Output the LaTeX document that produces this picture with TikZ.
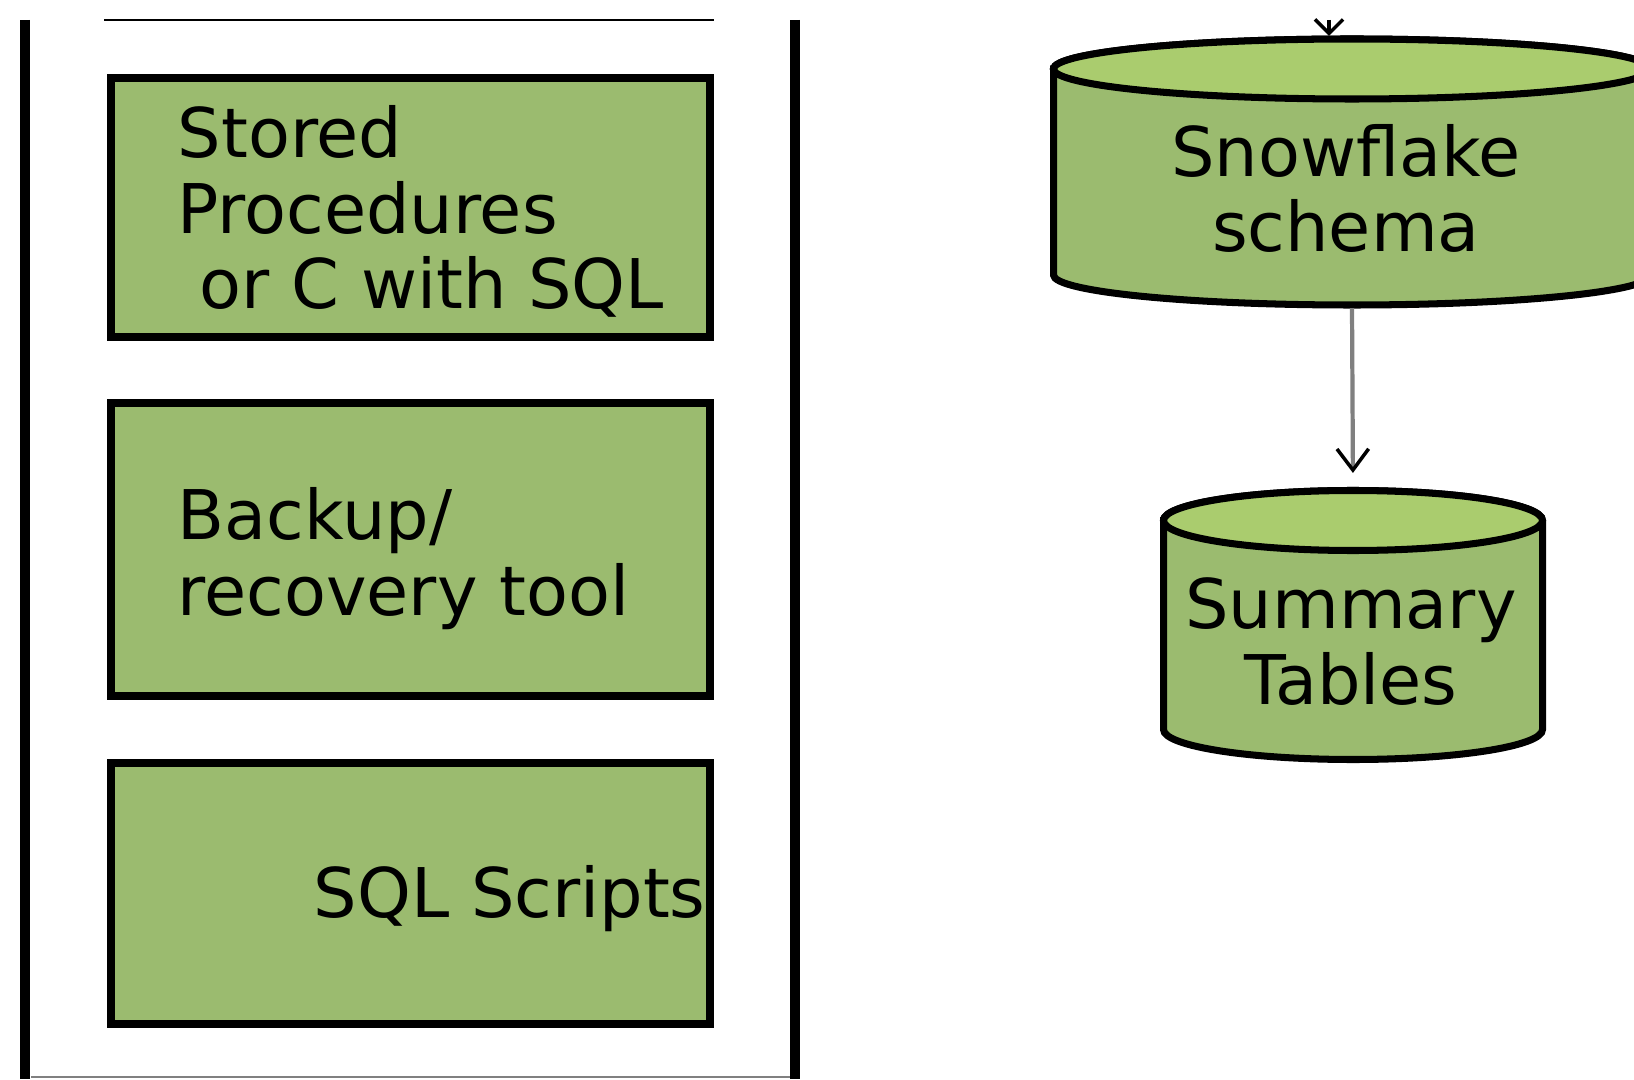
\documentclass[tikz,border=0pt]{standalone}
\usepackage{fontspec}
\setmainfont{DejaVu Sans}
\usetikzlibrary{arrows.meta}
\definecolor{boxgreen}{RGB}{155,187,111}
\definecolor{topgreen}{RGB}{170,204,110}
\tikzset{
  tool/.style={draw=black, fill=boxgreen, line width=2.2pt, minimum width=5.99cm, inner sep=0pt},
  store/.style={inner sep=0pt, outer sep=1pt},
  drum/.style={draw=black, line width=2pt},
  txt/.style={font=\fontsize{19.5}{21.5}\selectfont, inner sep=0pt, align=left},
}
\begin{document}
\begin{tikzpicture}

%\draw (0,0) grid (16,10);
\useasboundingbox (0,0) rectangle (16.34,10.79);
\clip (0,0) rectangle (16.34,10.79);

\draw [line width=2.6pt] (0.25,10.59) -- (0.25,0);
\draw [line width=2.6pt] (7.95,10.59) -- (7.95,0);
\draw [thin] (1.04,10.59) -- (7.14,10.59);
\draw [gray, thin] (0.31,0.02) -- (7.90,0.02);

\node [tool, minimum height=2.59cm] (stored) at (4.105,8.715) {};
\node [tool, minimum height=2.93cm] (backup) at (4.105,5.295) {};
\node [tool, minimum height=2.61cm] (scripts) at (4.105,1.855) {};

\node [txt, anchor=base west] (storedtxt) at (1.77,7.70) {Stored\\Procedures\\\hspace*{0.32em}or C with SQL};
\node [txt, anchor=base west] (backuptxt) at (1.77,4.64) {Backup/\\recovery tool};
\node [txt, anchor=base west] (scriptstxt) at (3.13,1.62) {SQL Scripts};

% drums
\node [store, minimum width=5.97cm, minimum height=2.65cm] (snow) at (13.52,9.07) {};
\draw [drum, fill=boxgreen] (10.535,10.10) -- (10.535,8.04) arc [start angle=180, end angle=360, x radius=2.985, y radius=0.30] -- (16.505,10.10) arc [start angle=0, end angle=180, x radius=2.985, y radius=0.30] -- cycle;
\draw [drum, fill=topgreen] (13.52,10.10) ellipse [x radius=2.985, y radius=0.30];

\node [store, minimum width=3.79cm, minimum height=2.69cm] (summ) at (13.53,4.54) {};
\draw [drum, fill=boxgreen] (11.635,5.585) -- (11.635,3.495) arc [start angle=180, end angle=360, x radius=1.895, y radius=0.30] -- (15.425,5.585) arc [start angle=0, end angle=180, x radius=1.895, y radius=0.30] -- cycle;
\draw [drum, fill=topgreen] (13.53,5.585) ellipse [x radius=1.895, y radius=0.30];

\node [txt, align=center, anchor=base] (snowtxt) at (13.46,8.27) {Snowflake\\schema};
\node [txt, align=center, anchor=base] (summtxt) at (13.51,3.75) {Summary\\Tables};

\coordinate (feed) at (13.29,10.59);
\draw [line width=1pt, -{Straight Barb[length=4pt,width=8pt]}] (feed) -- (feed |- snow.north);
\draw [gray, line width=1.2pt, -{Straight Barb[length=6pt,width=9pt,line width=1pt,color=black]}, shorten >=4pt] (snow.south) -- (summ.north);

\end{tikzpicture}
\end{document}
